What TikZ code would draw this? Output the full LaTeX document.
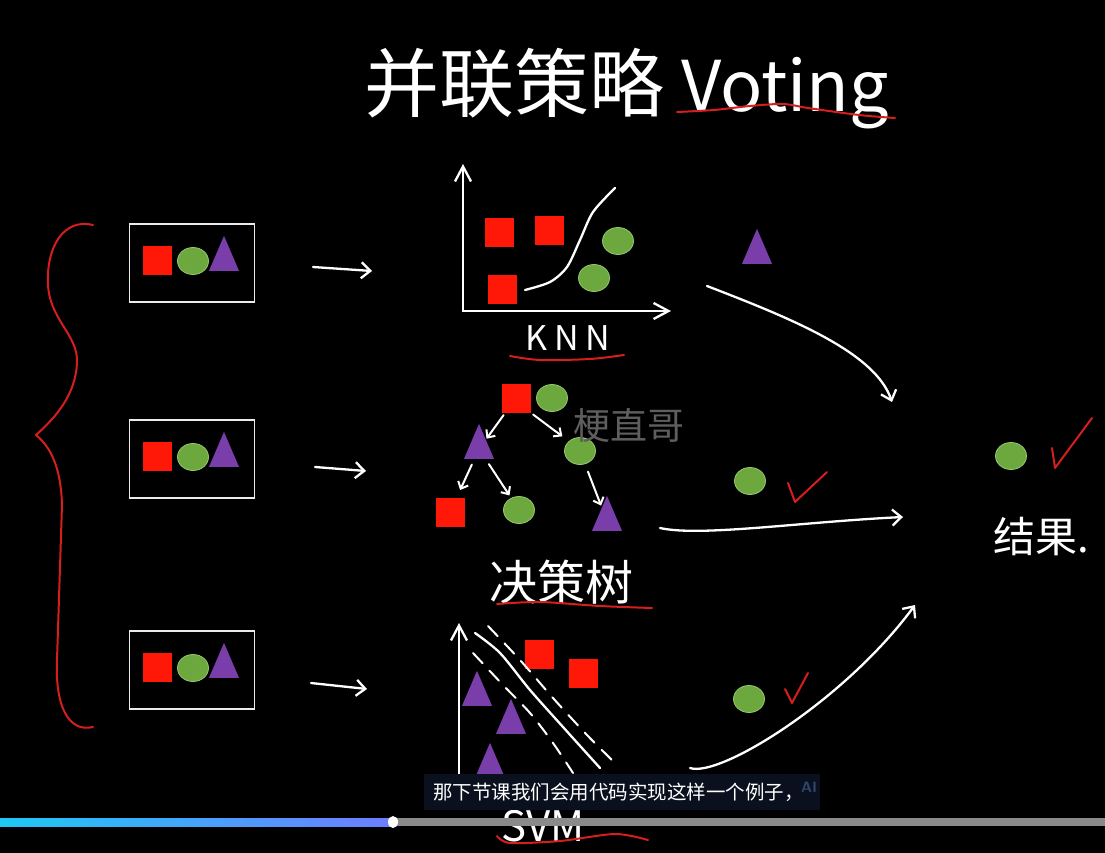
\documentclass[tikz,border=0pt]{standalone}
\usepackage{fontspec}
\usetikzlibrary{arrows.meta,calc,shapes.geometric}
\newfontfamily\cjk{Noto Sans CJK SC}
\definecolor{sqred}{RGB}{255,24,8}
\definecolor{ballgreen}{RGB}{108,168,62}
\definecolor{ballrim}{RGB}{150,200,110}
\definecolor{tripurple}{RGB}{122,62,170}
\definecolor{penred}{RGB}{215,30,30}
\definecolor{subbg}{RGB}{10,16,30}
\definecolor{barcyan}{RGB}{30,200,245}
\definecolor{barblue}{RGB}{25,140,255}
\definecolor{barviolet}{RGB}{110,125,255}
\definecolor{bargrey}{RGB}{138,138,138}
\definecolor{aimark}{RGB}{45,70,105}
\tikzset{
  sq/.style={rectangle,fill=sqred,minimum size=29pt,inner sep=0pt},
  ball/.style={ellipse,fill=ballgreen,draw=ballrim,line width=0.8pt,minimum width=31pt,minimum height=27pt,inner sep=0pt},
  tri/.style={isosceles triangle,isosceles triangle stretches,shape border rotate=90,fill=tripurple,minimum width=30pt,minimum height=35pt,inner sep=0pt},
  inbox/.style={draw=white!92!black,line width=1.8pt,minimum width=125pt,minimum height=78pt,inner sep=0pt},
  chalk/.style={draw=white,line width=2.3pt,line cap=round,line join=round},
  pen/.style={chalk,-{Straight Barb[length=9pt,width=16pt]}},
  axpen/.style={chalk,-{Straight Barb[length=15pt,width=16pt]}},
  tpen/.style={chalk,line width=2pt,-{Straight Barb[length=6pt,width=11pt]}},
  redpen/.style={draw=penred,line width=2pt,line cap=round,line join=round},
  hand/.style={text=white,inner sep=0pt,font=\cjk\fontsize{#1pt}{#1pt}\selectfont},
}

\begin{document}
\begin{tikzpicture}[x=1pt,y=-1pt]
  \fill[black] (0,0) rectangle (1105,853);
  \useasboundingbox (0,0) rectangle (1105,853);

  % title
  \node[hand=75,anchor=base west] (title) at (364,112) {并联策略 {\fontsize{70pt}{70pt}\selectfont Voting}};
  \draw[redpen] plot[smooth] coordinates {(677,112) (714,110) (750,106) (783,104) (808,108) (859,115) (895,118)};

  % brace
  \draw[redpen] (93,225) .. controls (65,218) and (46,245) .. (48,285)
    .. controls (50,320) and (78,335) .. (77,362)
    .. controls (76,395) and (55,418) .. (36,435)
    .. controls (52,448) and (61,470) .. (62,505)
    -- (57,660)
    .. controls (55,705) and (68,733) .. (93,727);

  % input samples
  \foreach \n/\y in {1/263,2/459,3/670}{
    \node[inbox] (in\n) at (192,\y) {};
    \node[sq] (s\n) at (157,{\y-3}) {};
    \node[ball] (b\n) at (193,{\y-2}) {};
    \node[tri] (t\n) at (224,{\y-2}) {};
  }
  \coordinate (from1) at (313,267); \coordinate (to1) at (372,271);
  \coordinate (from2) at (315,467); \coordinate (to2) at (366,471);
  \coordinate (from3) at (311,683); \coordinate (to3) at (367,689);
  \foreach \n in {1,2,3} \draw[pen] (from\n) -- (to\n);

  % KNN
  \coordinate (kO) at (463,311);
  \coordinate (kY) at (463,164);
  \coordinate (kX) at (671,311);
  \draw[axpen] (kO) -- (kY);
  \draw[axpen] (kO) -- (kX);
  \node[sq] (k1) at (499,232) {};
  \node[sq] (k2) at (549,230) {};
  \node[sq] (k3) at (502,289) {};
  \node[ball] (k4) at (618,241) {};
  \node[ball] (k5) at (594,278) {};
  \draw[chalk] plot[smooth] coordinates {(525,290) (550,282) (567,267) (580,240) (593,212) (615,188)};
  \node[hand=34] (knn) at (568,338) {\addfontfeature{LetterSpace=20}KNN};
  \draw[redpen] plot[smooth] coordinates {(510,356) (540,360) (590,359) (624,355)};

  \node[tri] (vk) at (757,254) {};
  \coordinate (vkfrom) at (707,286);
  \coordinate (r1) at (892,402);
  \draw[pen] (vkfrom) .. controls (790,318) and (875,352) .. (r1);

  % tree
  \node[sq] (root) at (516,398) {};
  \node[ball] (rootb) at (552,398) {};
  \node[tri] (tL) at (479,449) {};
  \node[ball] (cR) at (580,451) {};
  \node[sq] (bS) at (450,512) {};
  \node[ball] (bB) at (519,510) {};
  \node[tri] (bT) at (607,521) {};
  \draw[tpen,shorten <=3pt,shorten >=1pt] (root) -- (tL);
  \draw[tpen,shorten <=3pt,shorten >=8pt] (root.south east) -- (cR.north west);
  \draw[tpen,shorten <=6pt,shorten >=8pt] (tL) -- (bS);
  \draw[tpen,shorten <=6pt,shorten >=3pt] (tL) -- (bB);
  \draw[tpen,shorten <=8pt,shorten >=2pt] (cR) -- (bT);
  \node[hand=48] (dt) at (561,582) {决策树};
  \draw[redpen] plot[smooth] coordinates {(497,604) (540,602) (600,606) (652,608)};
  \node[text=white!37!black,font=\cjk\fontsize{37pt}{37pt}\selectfont,inner sep=0pt] (mark) at (629,425) {梗直哥};

  \node[ball] (vd) at (750,481) {};
  \draw[redpen] (788,483) -- (795,502) -- (827,472);
  \coordinate (vdfrom) at (660,528);
  \coordinate (r2) at (903,517);
  \draw[pen] (vdfrom) .. controls (700,537) and (800,522) .. (r2);

  % SVM
  \coordinate (sO) at (459,800);
  \coordinate (sY) at (459,623);
  \draw[axpen] (sO) -- (sY);
  \node[sq] (v1) at (539,654) {};
  \node[sq] (v2) at (583,673) {};
  \node[tri] (v3) at (477,696) {};
  \node[tri] (v4) at (511,724) {};
  \node[tri] (v5) at (490,768) {};
  \draw[chalk] plot[smooth] coordinates {(475,633) (500,653) (530,690) (563,727) (600,768)};
  \draw[chalk,line width=2pt,dash pattern=on 14pt off 10pt] plot[smooth] coordinates {(488,626) (520,660) (553,698) (587,735) (617,765)};
  \draw[chalk,line width=2pt,dash pattern=on 14pt off 10pt] plot[smooth] coordinates {(473,653) (503,685) (530,713) (553,743) (573,773)};
  \node[ball] (vs) at (749,699) {};
  \draw[redpen] (785,689) -- (792,703) -- (808,673);
  \coordinate (vsfrom) at (690,768);
  \coordinate (r3) at (915,605);
  \draw[pen] (vsfrom) .. controls (720,778) and (845,700) .. (r3);
  \node[hand=42] (svm) at (543,826) {SVM};
  \draw[redpen] plot[smooth] coordinates {(497,836) (510,843) (560,841) (615,834) (648,840)};

  % result
  \node[ball] (res) at (1011,456) {};
  \draw[redpen] (1052,448) -- (1055,468) -- (1092,418);
  \node[hand=42,anchor=west] (reslbl) at (993,537) {结果.};

  % player overlay
  \node[fill=subbg,anchor=north west,minimum width=396pt,minimum height=36pt,inner sep=0pt] (subbox) at (424,774) {};
  \node[hand=19.5,anchor=west] (subtxt) at (433,792) {那下节课我们会用代码实现这样一个例子，};
  \node[text=aimark,inner sep=0pt,font=\sffamily\bfseries\fontsize{15pt}{15pt}\selectfont] (ai) at (809,787) {AI};
  \shade[left color=barcyan,middle color=barblue,right color=barviolet] (0,818) rectangle (393,826);
  \fill[bargrey] (393,818) rectangle (1105,826);
  \node[ellipse,fill=white,minimum width=10pt,minimum height=12pt,inner sep=0pt] (knob) at (393,822) {};
\end{tikzpicture}
\end{document}
